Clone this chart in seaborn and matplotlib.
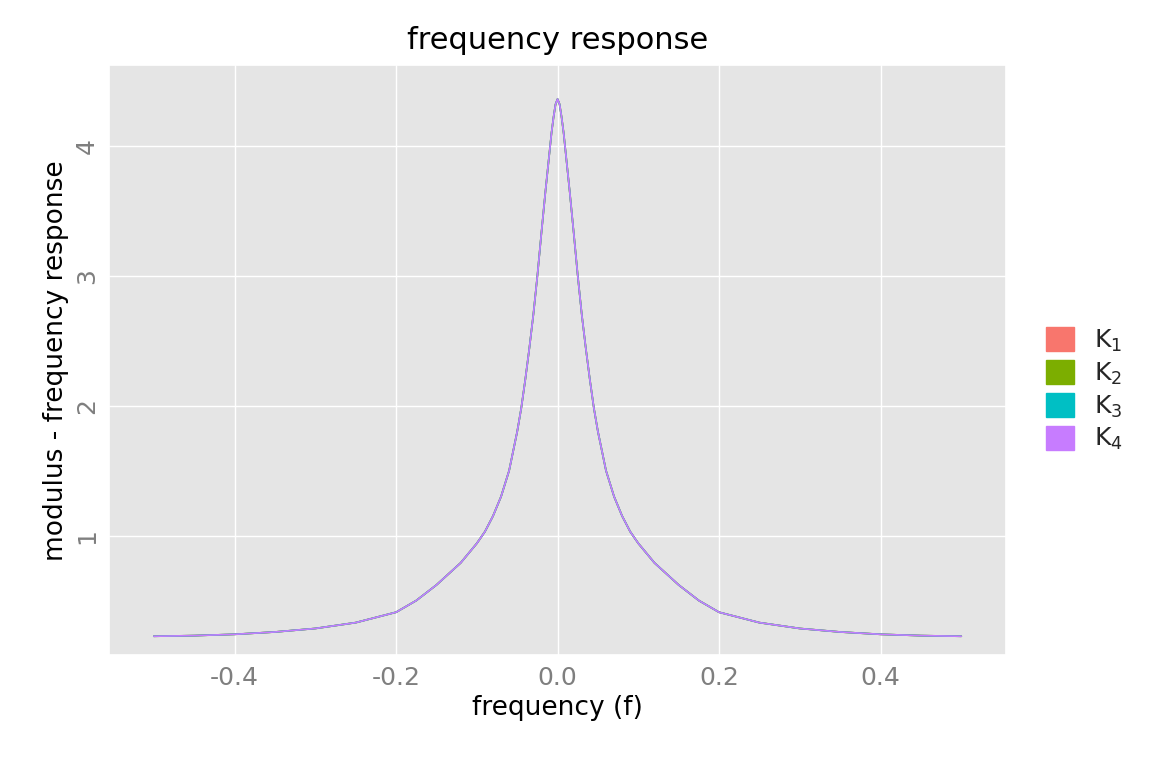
import numpy as np
import pandas as pd
import matplotlib
matplotlib.use("Agg")
import matplotlib.pyplot as plt
import seaborn as sns
from matplotlib.patches import Patch

# values (curve is symmetric around f = 0)
half_freq = [0.0, 0.0025, 0.005, 0.0075, 0.01, 0.015, 0.02, 0.025, 0.03, 0.035,
             0.04, 0.045, 0.05, 0.06, 0.07, 0.08, 0.09, 0.1, 0.12, 0.15,
             0.175, 0.2, 0.25, 0.3, 0.35, 0.4, 0.45, 0.5]
half_mod = [4.36, 4.32, 4.22, 4.1, 3.95, 3.65, 3.33, 3.0, 2.7, 2.44,
            2.2, 1.98, 1.8, 1.5, 1.3, 1.15, 1.03, 0.94, 0.79, 0.62,
            0.5, 0.41, 0.33, 0.285, 0.258, 0.24, 0.23, 0.225]
series = ["K1", "K2", "K3", "K4"]
labels = ["$\\mathregular{K_1}$", "$\\mathregular{K_2}$",
          "$\\mathregular{K_3}$", "$\\mathregular{K_4}$"]
colors = ["#F8766D", "#7CAE00", "#00BFC4", "#C77CFF"]

freq = [-f for f in half_freq[::-1]] + half_freq[1:]
mod = half_mod[::-1] + half_mod[1:]

rows = []
for s in series:
    for f, m in zip(freq, mod):
        rows.append({"f": f, "mod": m, "series": s})
df = pd.DataFrame(rows)

sns.set_theme(style="darkgrid", rc={"axes.facecolor": "#E5E5E5",
                                    "grid.color": "white"})
fig, ax = plt.subplots(figsize=(11.52, 7.68), dpi=100)
sns.lineplot(data=df, x="f", y="mod", hue="series", palette=colors,
             linewidth=1.2, legend=False, ax=ax)

ax.set_xlim(-0.555, 0.555)
ax.set_ylim(0.08, 4.62)
ax.set_xticks([-0.4, -0.2, 0.0, 0.2, 0.4])
ax.set_xticklabels(["-0.4", "-0.2", "0.0", "0.2", "0.4"])
ax.set_yticks([1, 2, 3, 4])
ax.tick_params(axis="both", labelsize=18, labelcolor="#7F7F7F", length=4,
               color="#333333")
plt.setp(ax.get_yticklabels(), rotation=90, va="center")
ax.set_xlabel("frequency (f)", fontsize=19, color="black")
ax.set_ylabel("modulus - frequency response", fontsize=19, color="black")
ax.set_title("frequency response", fontsize=22, pad=12, color="black")

handles = [Patch(color=c, label=l) for c, l in zip(colors, labels)]
ax.legend(handles=handles, loc="center left", bbox_to_anchor=(1.02, 0.45),
          frameon=False, fontsize=18, handlelength=1.1, handleheight=1.1,
          labelspacing=0.25)

fig.subplots_adjust(left=0.095, right=0.873, top=0.915, bottom=0.147)
fig.savefig("out.png", dpi=100)
